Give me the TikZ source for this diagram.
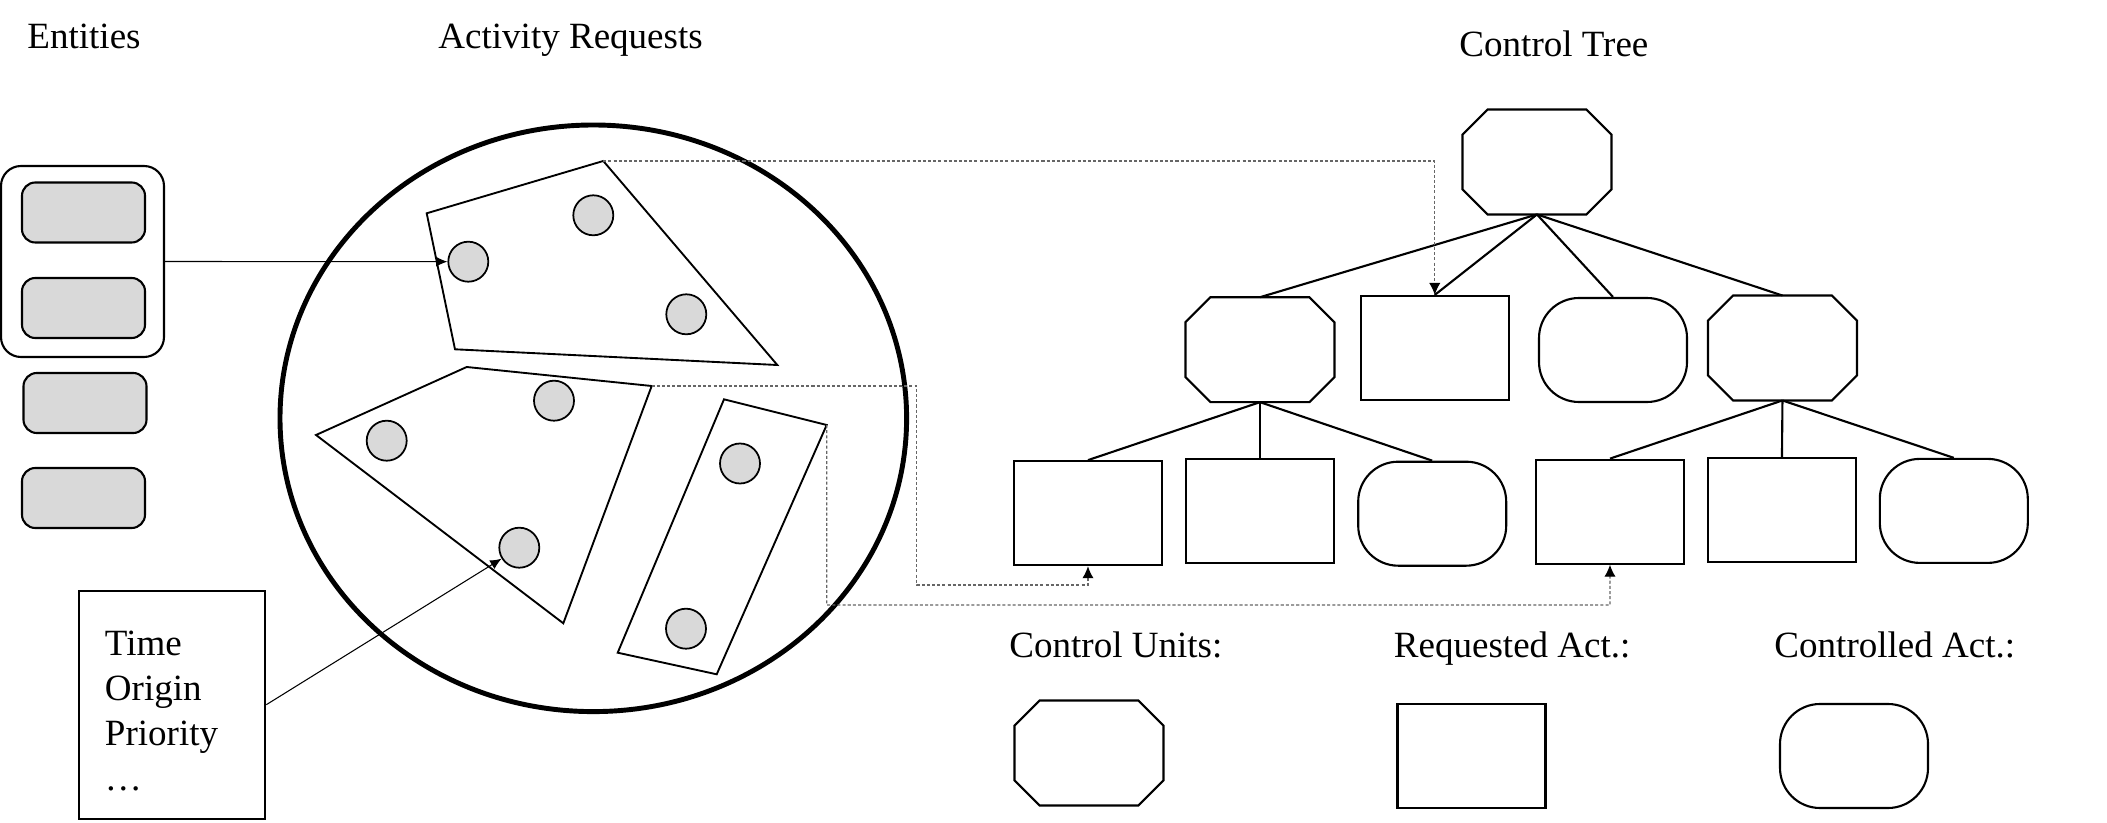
\documentclass[tikz,border=0pt]{standalone}
\usepackage{fontspec}
\setmainfont{Liberation Serif}
\usetikzlibrary{arrows.meta}

\begin{document}
\begin{tikzpicture}[scale=0.15,
    every node/.style={inner sep=0pt, font=\fontsize{15.8}{19.2}\selectfont},
    entity/.style={draw, rounded corners=0.2cm, fill=black!15, line width=0.9pt, minimum width=1.845cm, minimum height=0.9cm},
    token/.style={draw, circle, fill=black!15, line width=0.75pt, minimum size=0.6cm},
    % chamfer of 0.375cm, written before the scale of 0.15
    cunit/.style={rectangle, minimum width=2.22cm, minimum height=1.56cm,
      append after command={\pgfextra{\let\octnode\tikzlastnode
        \draw [line width=0.9pt] ([xshift=2.5cm]\octnode.north west) -- ([xshift=-2.5cm]\octnode.north east)
          -- ([yshift=-2.5cm]\octnode.north east) -- ([yshift=2.5cm]\octnode.south east)
          -- ([xshift=-2.5cm]\octnode.south east) -- ([xshift=2.5cm]\octnode.south west)
          -- ([yshift=2.5cm]\octnode.south west) -- ([yshift=-2.5cm]\octnode.north west) -- cycle;}}},
    reqact/.style={draw, rectangle, line width=0.9pt, minimum width=2.22cm, minimum height=1.56cm},
    ctlact/.style={draw, rectangle, rounded corners=0.6cm, line width=0.9pt, minimum width=2.22cm, minimum height=1.56cm},
    branch/.style={line width=0.9pt},
    pointer/.style={line width=0.45pt, -{Latex[length=0.17cm,width=0.15cm]}},
    link/.style={black!60, line width=0.55pt, dash pattern=on 1.3pt off 0.9pt, -{Latex[length=0.18cm,width=0.17cm,color=black]}}]
    \useasboundingbox (0,0) rectangle (210.7,-82.3);
    % titles
    \node [anchor=base west] (enttitle) at (2.7,-4.84) {Entities};
    \node [anchor=base west] (reqtitle) at (43.8,-4.84) {Activity Requests};
    \node [anchor=base west] (treetitle) at (145.9,-5.64) {Control Tree};
    % entities
    \node [draw, rounded corners=0.3cm, line width=0.9pt, minimum width=2.445cm, minimum height=2.865cm] (entgroup) at (8.25,-26.15) {};
    \node [entity] (ent1) at (8.35,-21.25) {};
    \node [entity] (ent2) at (8.35,-30.8) {};
    \node [entity] (ent3) at (8.5,-40.3) {};
    \node [entity] (ent4) at (8.35,-49.8) {};
    \node [draw, line width=0.9pt, minimum width=2.79cm, minimum height=3.42cm, align=left, text width=2.02cm, inner xsep=0.385cm] (attrs) at (17.23,-70.47) {\rule{0pt}{16pt}Time\\Origin\\Priority\\\dots};
    % activity requests
    \draw [line width=2.1pt] (59.33,-41.83) ellipse (31.33 and 29.33);
    \coordinate (g1) at (60.33,-16.1);
    \coordinate (g2) at (65.17,-38.6);
    \coordinate (g3) at (82.67,-42.5);
    \draw [line width=0.8pt] (42.67,-21.33) -- (g1) -- (77.73,-36.5) -- (45.5,-34.93) -- cycle;
    \draw [line width=0.8pt] (46.67,-36.7) -- (g2) -- (56.33,-62.33) -- (31.6,-43.5) -- cycle;
    \draw [line width=0.8pt] (72.4,-39.93) -- (g3) -- (71.67,-67.43) -- (61.77,-65.27) -- cycle;
    \node [token] (c1) at (46.83,-26.17) {};
    \node [token] (c2) at (59.33,-21.53) {};
    \node [token] (c3) at (68.63,-31.43) {};
    \node [token] (c4) at (38.67,-44.07) {};
    \node [token] (c5) at (55.4,-40.07) {};
    \node [token] (c6) at (51.93,-54.77) {};
    \node [token] (c7) at (74,-46.35) {};
    \node [token] (c8) at (68.6,-62.87) {};
    \draw [pointer] (entgroup.east) -- (c1);
    \draw [pointer] (attrs.east) -- (c6);
    % control tree
    \node [cunit] (root) at (153.7,-16.2) {};
    \node [cunit] (u1) at (126,-34.97) {};
    \node [reqact] (r1) at (143.48,-34.8) {};
    \node [ctlact] (k1) at (161.3,-35) {};
    \node [cunit] (u2) at (178.25,-34.8) {};
    \node [reqact] (r2) at (108.8,-51.32) {};
    \node [reqact] (r3) at (126,-51.09) {};
    \node [ctlact] (k2) at (143.22,-51.37) {};
    \node [reqact] (r4) at (161,-51.17) {};
    \node [reqact] (r5) at (178.2,-50.99) {};
    \node [ctlact] (k3) at (195.38,-51.09) {};
    \draw [branch] (root.south) -- (u1.north);
    \draw [branch] (root.south) -- (r1.north);
    \draw [branch] (root.south) -- (k1.north);
    \draw [branch] (root.south) -- (u2.north);
    \draw [branch] (u1.south) -- (r2.north);
    \draw [branch] (u1.south) -- (r3.north);
    \draw [branch] (u1.south) -- (k2.north);
    \draw [branch] (u2.south) -- (r4.north);
    \draw [branch] (u2.south) -- (r5.north);
    \draw [branch] (u2.south) -- (k3.north);
    \draw [link] (g1) -| (r1.north);
    \draw [link] (g2) -| (91.67,-58.5) -| (r2.south);
    \draw [link] (g3) |- (161,-60.5) -- (r4.south);
    % legend
    \node [anchor=base west] (unitlabel) at (100.9,-65.7) {Control Units:};
    \node [anchor=base west] (reqlabel) at (139.35,-65.7) {Requested Act.:};
    \node [anchor=base west] (ctllabel) at (177.4,-65.7) {Controlled Act.:};
    \node [cunit] (unitkey) at (108.9,-75.3) {};
    \node [reqact] (reqkey) at (147.15,-75.6) {};
    \node [ctlact] (ctlkey) at (185.4,-75.6) {};
\end{tikzpicture}
\end{document}
